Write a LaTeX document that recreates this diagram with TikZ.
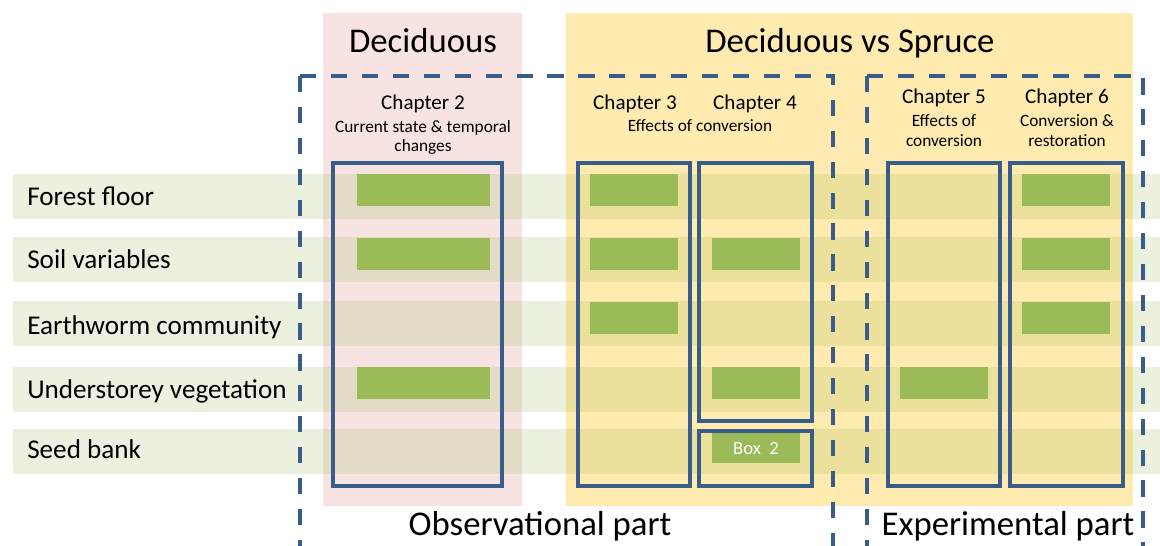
\documentclass[tikz,border=0pt]{standalone}
\usepackage{fontspec}
\setmainfont{Carlito}
\usepackage{tikz}
\usetikzlibrary{positioning,calc}

\definecolor{pinkbg}{RGB}{247,228,226}
\definecolor{yellowbg}{RGB}{255,235,175}
\definecolor{bargreen}{RGB}{155,187,89}
\definecolor{frameblue}{RGB}{56,93,138}

\tikzset{
	panel/.style={rectangle, anchor=north west, inner sep=0pt, outer sep=0pt},
	band/.style={panel, fill=bargreen, fill opacity=0.2, minimum width=28.675cm, minimum height=1.125cm},
	chapbox/.style={panel, draw=frameblue, line width=2.5pt, minimum width=2.8cm, minimum height=8.075cm},
	greenbar/.style={panel, fill=bargreen, minimum width=2.2cm, minimum height=0.8cm},
	rowlabel/.style={anchor=base west, inner sep=0pt, font=\fontsize{19.3}{22}\selectfont},
	chaptitle/.style={anchor=base, inner sep=0pt, font=\fontsize{15}{18}\selectfont},
	chapsub/.style={anchor=base, inner sep=0pt, font=\fontsize{12.3}{14.5}\selectfont},
	bigtitle/.style={anchor=base, inner sep=0pt, font=\fontsize{24.7}{29}\selectfont},
	dashframe/.style={draw=frameblue, line width=3.2pt, dash pattern=on 11.5pt off 10.5pt},
}

\begin{document}
\begin{tikzpicture}
		\useasboundingbox (0,0) rectangle (29,-13.65);
		% background panels
		\node[panel, fill=pinkbg, minimum width=4.975cm, minimum height=12.325cm] (decid) at (8.075,-0.325) {};
		\node[panel, fill=yellowbg, minimum width=14.175cm, minimum height=12.325cm] (spruce) at (14.15,-0.325) {};
		\node[bigtitle] (tdecid) at (10.575,-1.3) {Deciduous};
		\node[bigtitle] (tspruce) at (21.25,-1.3) {Deciduous vs Spruce};
		% rows
		\node[band] (rowff) at (0.325,-4.35) {};
		\node[band] (rowsv) at (0.325,-5.925) {};
		\node[band] (rowec) at (0.325,-7.525) {};
		\node[band] (rowuv) at (0.325,-9.175) {};
		\node[band] (rowsb) at (0.325,-10.725) {};
		\node[rowlabel] (lff) at (0.675,-5.125) {Forest floor};
		\node[rowlabel] (lsv) at (0.675,-6.7) {Soil variables};
		\node[rowlabel] (lec) at (0.675,-8.35) {Earthworm community};
		\node[rowlabel] (luv) at (0.675,-9.95) {Understorey vegetation};
		\node[rowlabel] (lsb) at (0.675,-11.45) {Seed bank};
		% dashed parts
		\draw[dashframe] (7.5,-1.9) -- (7.5,-14) (7.5,-1.9) -- (20.825,-1.9) -- (20.825,-14);
		\draw[dashframe] (21.675,-1.9) -- (21.675,-14) (21.675,-1.9) -- (28.575,-1.9) -- (28.575,-14);
		\node[bigtitle] (obs) at (13.5,-13.375) {Observational part};
		\node[bigtitle] (exp) at (25.2,-13.375) {Experimental part};
		% chapter 2
		\node[chaptitle] (c2) at (10.575,-2.725) {Chapter 2};
		\node[chapsub] (s2a) at (10.575,-3.3) {Current state \& temporal};
		\node[chapsub] (s2b) at (10.575,-3.775) {changes};
		\node[chapbox, minimum width=4.225cm] (box2) at (8.325,-4.075) {};
		\node[greenbar, minimum width=3.325cm] (b2ff) at (8.925,-4.35) {};
		\node[greenbar, minimum width=3.325cm] (b2sv) at (8.925,-5.95) {};
		\node[greenbar, minimum width=3.325cm] (b2uv) at (8.925,-9.175) {};
		% chapters 3 and 4
		\node[chaptitle] (c3) at (15.875,-2.725) {Chapter 3};
		\node[chaptitle] (c4) at (18.875,-2.725) {Chapter 4};
		\node[chapsub] (s34) at (17.5,-3.275) {Effects of conversion};
		\node[chapbox] (box3) at (14.45,-4.075) {};
		\node[chapbox, minimum width=2.825cm, minimum height=6.45cm] (box4) at (17.475,-4.075) {};
		\node[chapbox, minimum width=2.825cm, minimum height=1.375cm] (boxb) at (17.475,-10.775) {};
		\node[greenbar] (b3ff) at (14.75,-4.35) {};
		\node[greenbar] (b3sv) at (14.75,-5.95) {};
		\node[greenbar] (b3ec) at (14.75,-7.55) {};
		\node[greenbar] (b4sv) at (17.8,-5.95) {};
		\node[greenbar] (b4uv) at (17.8,-9.175) {};
		\node[greenbar, minimum height=0.75cm, text=white, font=\fontsize{13.3}{16}\selectfont] (b4sb) at (17.8,-10.825) {Box~~2};
		% chapters 5 and 6
		\node[chaptitle] (c5) at (23.6,-2.575) {Chapter 5};
		\node[chapsub] (s5a) at (23.6,-3.15) {Effects of};
		\node[chapsub] (s5b) at (23.6,-3.65) {conversion};
		\node[chaptitle] (c6) at (26.675,-2.575) {Chapter 6};
		\node[chapsub] (s6a) at (26.675,-3.15) {Conversion \&};
		\node[chapsub] (s6b) at (26.675,-3.65) {restoration};
		\node[chapbox] (box5) at (22.2,-4.075) {};
		\node[chapbox, minimum width=2.825cm] (box6) at (25.25,-4.075) {};
		\node[greenbar] (b5uv) at (22.5,-9.175) {};
		\node[greenbar] (b6ff) at (25.55,-4.35) {};
		\node[greenbar] (b6sv) at (25.55,-5.95) {};
		\node[greenbar] (b6ec) at (25.55,-7.55) {};
	\end{tikzpicture}
\end{document}
